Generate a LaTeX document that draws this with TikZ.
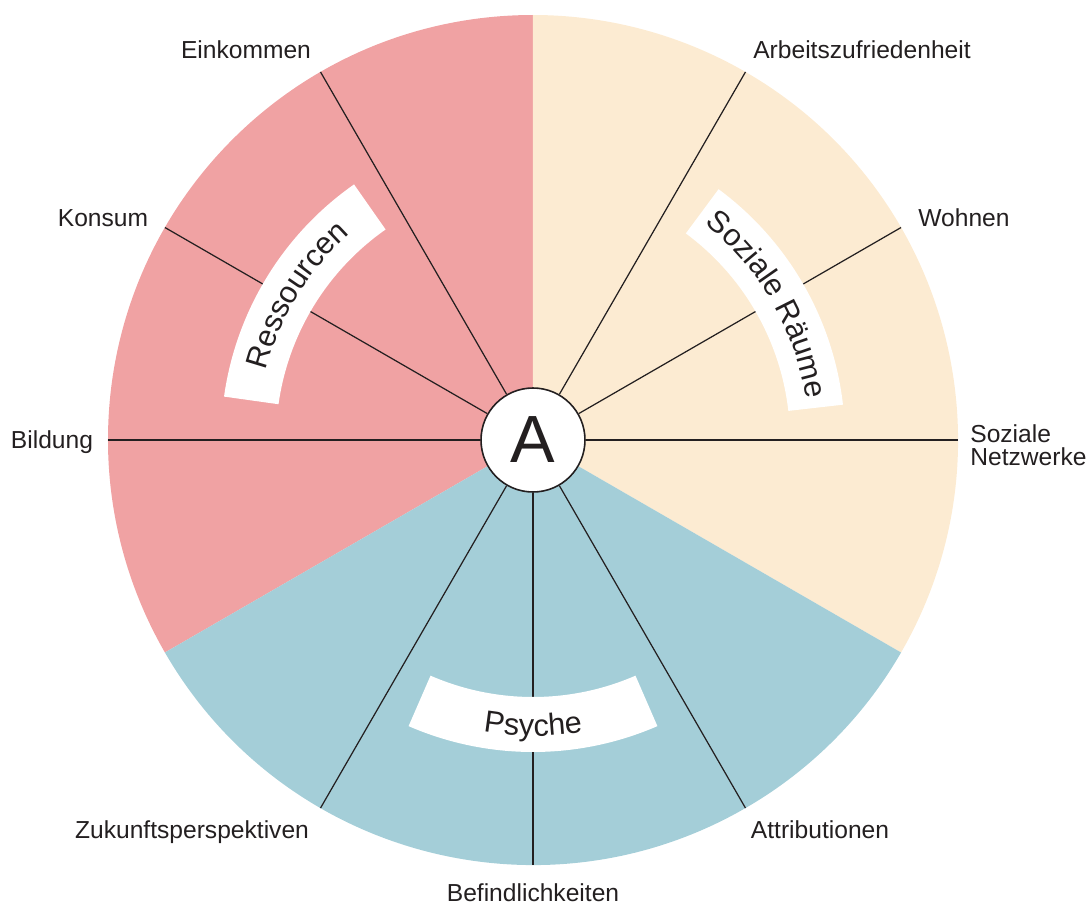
\documentclass[tikz,border=0pt]{standalone}
\usepackage{fontspec}
\setmainfont{Liberation Sans}
\usetikzlibrary{decorations.text}
\definecolor{ressrot}{RGB}{240,162,163}
\definecolor{raumbeige}{RGB}{252,235,210}
\definecolor{psycheblau}{RGB}{164,206,216}
\definecolor{schrift}{RGB}{35,31,32}
\begin{document}
\begin{tikzpicture}[
      x=0.02cm, y=0.02cm,
      speiche/.style={
        draw=schrift,
        line width=0.7pt
      },
      beschr/.style={
        font=\fontsize{14}{13}\selectfont,
        text=schrift,
        inner sep=0pt,
        text height=10pt,
        text depth=0pt
      },
      bogentext/.style={
        decorate,
        decoration={text along path, text align=center, text color=schrift,
          text={|\fontsize{17.4}{19}\selectfont|#1}}
      }
    ]
    \useasboundingbox (-533,-467) rectangle (556,440);
    \fill[ressrot] (0,0) -- (90:425) arc (90:210:425) -- cycle;
    \fill[raumbeige] (0,0) -- (-30:425) arc (-30:90:425) -- cycle;
    \fill[psycheblau] (0,0) -- (210:425) arc (210:330:425) -- cycle;
    \node[circle, draw=schrift, line width=0.9pt, fill=white, minimum size=2.08cm,
      inner sep=0pt, font=\fontsize{38}{40}\selectfont, text=schrift] (A) at (0,0) {A};
    \foreach \a in {0,30,60,120,150,180,240,270,300} {
      \coordinate (r\a) at (\a:425);
      \draw[speiche] (A) -- (r\a);
    }
    \fill[white] (125:257) arc (125:172:257) -- (172:312) arc (172:125:312) -- cycle;
    \fill[white] (6.5:257) arc (6.5:53.5:257) -- (53.5:312) arc (53.5:6.5:312) -- cycle;
    \fill[white] (246.5:257) arc (246.5:293.5:257) -- (293.5:312) arc (293.5:246.5:312) -- cycle;
    \path[bogentext={Ressourcen}] (172:276) arc (172:125:276);
    \path[bogentext={Soziale Räume}] (53.5:276) arc (53.5:6.5:276);
    \path[bogentext={Psyche}] (246.5:296) arc (246.5:293.5:296);
    \node[beschr] (einkommen) at (-287,390) {Einkommen};
    \node[beschr] (konsum) at (-430,222) {Konsum};
    \node[beschr] (bildung) at (-481,0) {Bildung};
    \node[beschr] (arbeit) at (329,390) {Arbeitszufriedenheit};
    \node[beschr] (wohnen) at (431,222) {Wohnen};
    \node[beschr, text height=, text depth=, align=left, anchor=west] (netzwerke) at (437,-5) {Soziale\\Netzwerke};
    \node[beschr] (zukunft) at (-341,-390) {Zukunftsperspektiven};
    \node[beschr] (befind) at (0,-453) {Befindlichkeiten};
    \node[beschr] (attrib) at (287,-390) {Attributionen};
  \end{tikzpicture}
\end{document}
